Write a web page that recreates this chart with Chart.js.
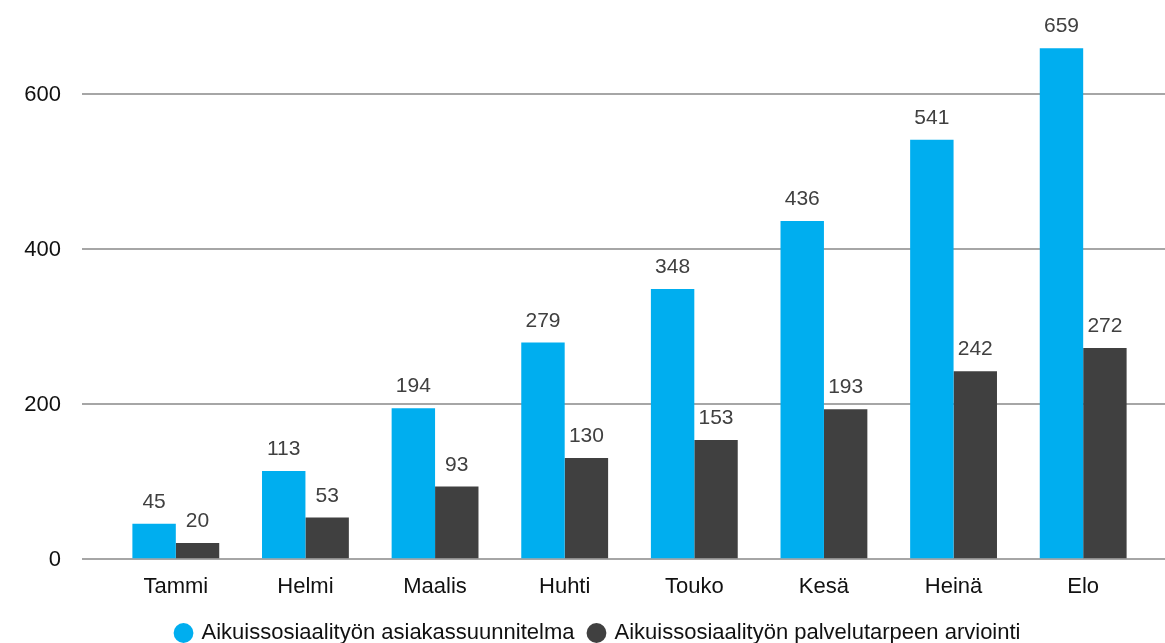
<!DOCTYPE html>
<html>
<head>
<meta charset="utf-8">
<script src="https://cdn.jsdelivr.net/npm/chart.js@4/dist/chart.umd.min.js"></script>
<style>
  html, body { margin: 0; padding: 0; background: #fff; }
  #wrap { width: 1165px; height: 643px; position: relative; }
</style>
</head>
<body>
<div id="wrap"><canvas id="chart"></canvas></div>
<script>
// kuukaudet ja sarjat
const months = ["Tammi", "Helmi", "Maalis", "Huhti", "Touko", "Kesä", "Heinä", "Elo"];
const suunnitelma = [45, 113, 194, 279, 348, 436, 541, 659];
const arviointi = [20, 53, 93, 130, 153, 193, 242, 272];
const seriesNames = ["Aikuissosiaalityön asiakassuunnitelma", "Aikuissosiaalityön palvelutarpeen arviointi"];
const yTicks = [0, 200, 400, 600];

const FONT = "'Liberation Sans', Arial, sans-serif";

// vaakaviivat ja y-akselin luvut, viivat hieman akselia leveämmiksi
const gridLines = {
  id: "gridLines",
  beforeDatasetsDraw(chart) {
    const { ctx, scales: { y }, width } = chart;
    ctx.save();
    ctx.strokeStyle = "#a6a6a6";
    ctx.lineWidth = 2;
    ctx.font = "22px " + FONT;
    ctx.fillStyle = "#111";
    ctx.textAlign = "right";
    ctx.textBaseline = "middle";
    yTicks.forEach(v => {
      const py = Math.round(y.getPixelForValue(v));
      ctx.beginPath();
      ctx.moveTo(82, py);
      ctx.lineTo(width, py);
      ctx.stroke();
      ctx.fillText(String(v), 61, py + 1);
    });
    ctx.restore();
  }
};

// arvot pylväiden yläpuolelle
const valueLabels = {
  id: "valueLabels",
  afterDatasetsDraw(chart) {
    const { ctx } = chart;
    ctx.save();
    ctx.font = "21px " + FONT;
    ctx.fillStyle = "#404040";
    ctx.textAlign = "center";
    ctx.textBaseline = "alphabetic";
    chart.data.datasets.forEach((ds, i) => {
      chart.getDatasetMeta(i).data.forEach((bar, j) => {
        ctx.fillText(String(ds.data[j]), bar.x, bar.y - 16);
      });
    });
    ctx.restore();
  }
};

const ctx = document.getElementById("chart").getContext("2d");
new Chart(ctx, {
  type: "bar",
  data: {
    labels: months,
    datasets: [
      { label: seriesNames[0], data: suunnitelma, backgroundColor: "#00aeef" },
      { label: seriesNames[1], data: arviointi, backgroundColor: "#404040" }
    ]
  },
  options: {
    responsive: true,
    maintainAspectRatio: false,
    animation: false,
    layout: { padding: { top: 1, right: 17, bottom: -11, left: 49 } },
    categoryPercentage: 0.67,
    barPercentage: 1,
    scales: {
      x: {
        grid: { display: false },
        border: { display: false },
        ticks: { color: "#111", font: { family: FONT, size: 22 }, padding: 7 }
      },
      y: {
        min: 0,
        max: 720,
        grid: { display: false },
        border: { display: false },
        afterFit: axis => { axis.width = 62; },
        ticks: { display: false }
      }
    },
    plugins: {
      legend: {
        position: "bottom",
        labels: {
          usePointStyle: true,
          pointStyle: "circle",
          boxWidth: 14,
          boxHeight: 14,
          color: "#111",
          padding: 15,
          font: { family: FONT, size: 22 }
        }
      },
      tooltip: { enabled: false }
    }
  },
  plugins: [gridLines, valueLabels]
});
</script>
</body>
</html>
